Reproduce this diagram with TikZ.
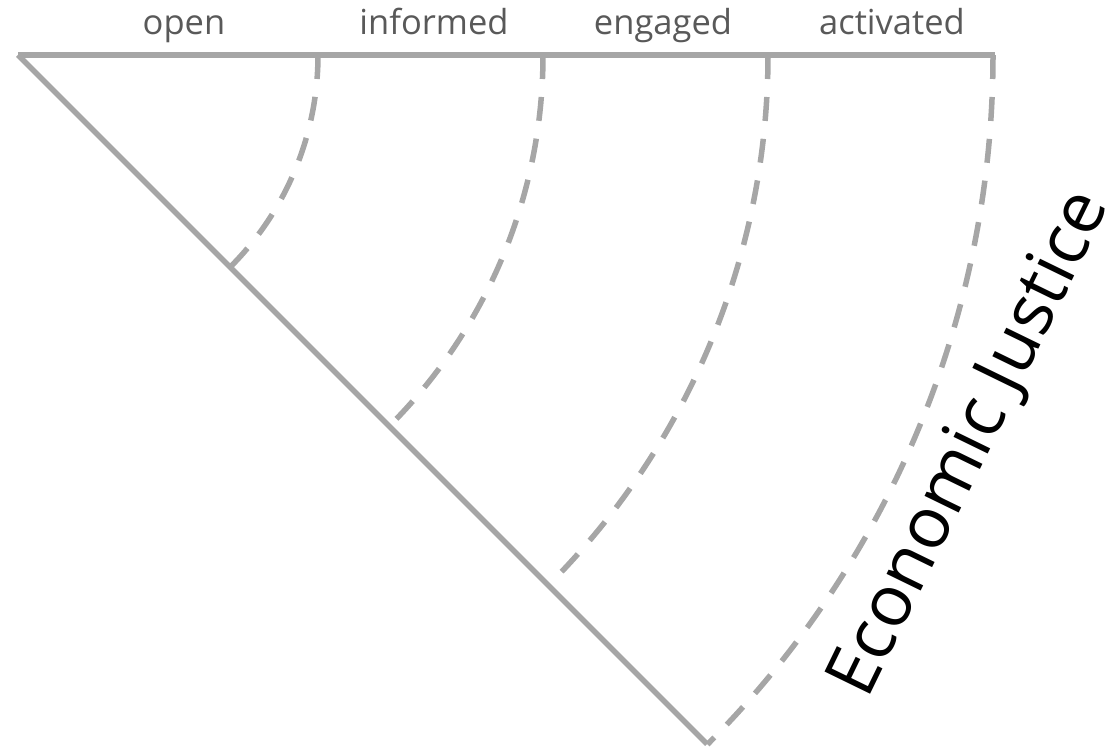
\documentclass[tikz,border=0pt]{standalone}
\usepackage{fontspec}
\setmainfont{Open Sans}
\definecolor{linegray}{HTML}{A6A6A6}
\definecolor{txtgray}{HTML}{595959}
\begin{document}
\begin{tikzpicture}[x=1pt,y=1pt,
  axis/.style={line width=5.5pt, draw=linegray},
  ring/.style={line width=5.5pt, draw=linegray, dash pattern=on 24pt off 18pt},
  stage/.style={text=txtgray, font=\fontsize{34.5}{40}\selectfont, anchor=base, inner sep=0pt},
  titletext/.style={font=\fontsize{71}{84}\selectfont, rotate=64, inner sep=0pt}]
\useasboundingbox (0,0) rectangle (1111,-752);
\coordinate (O) at (18,-55);
\coordinate (E) at (995,-55);
\coordinate (D) at (707,-744);
\draw[axis] (O) -- (E);
\draw[axis] (O) -- (D);
\coordinate (r1) at (318,-55);
\coordinate (r2) at (543,-55);
\coordinate (r3) at (768,-55);
\coordinate (r4) at (993,-55);
\draw[ring] (r1) arc[start angle=0, end angle=-45, radius=300pt];
\draw[ring] (r2) arc[start angle=0, end angle=-45, radius=525pt];
\draw[ring] (r3) arc[start angle=0, end angle=-45, radius=750pt];
\draw[ring] (r4) arc[start angle=0, end angle=-45, radius=975pt];
\node[stage] (open) at (184,-35) {open};
\node[stage] (informed) at (434,-35) {informed};
\node[stage] (engaged) at (663,-35) {engaged};
\node[stage] (activated) at (892,-35) {activated};
\node[titletext] (ej) at (971,-444) {Economic Justice};
\end{tikzpicture}
\end{document}
